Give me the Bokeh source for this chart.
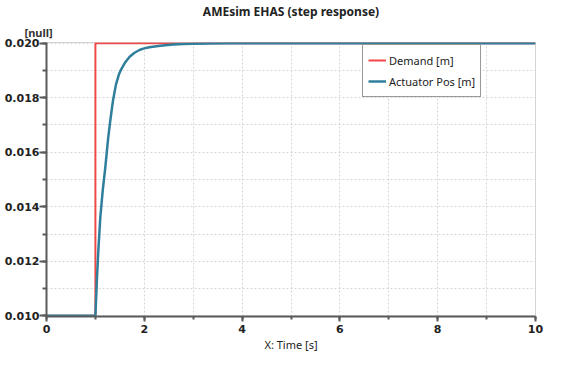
from bokeh.plotting import figure
from bokeh.models import (SingleIntervalTicker, NumeralTickFormatter, Legend, LegendItem,
                          Range1d, Title)
from bokeh.embed import file_html
from bokeh.resources import INLINE

# ---- data ----
demand_t = [0.0, 1.0, 1.0, 10.0]
demand_v = [0.010, 0.010, 0.020, 0.020]

act_t = [0.0, 1.0, 1.03, 1.06, 1.1, 1.15, 1.2, 1.26, 1.3, 1.36, 1.42, 1.48, 1.53,
         1.6, 1.7, 1.8, 1.9, 1.98, 2.1, 2.25, 2.42, 2.6, 2.8, 3.0, 3.3, 3.7, 4.2, 10.0]
act_v = [0.010, 0.010, 0.0113, 0.0124, 0.0136, 0.0146, 0.0154, 0.0165, 0.0171,
         0.0179, 0.01848, 0.01885, 0.01905, 0.01927, 0.01950, 0.01965, 0.01975,
         0.01980, 0.01985, 0.01989, 0.01992, 0.01995, 0.01997, 0.01998, 0.01999,
         0.019995, 0.0200, 0.0200]

title_text = "AMEsim EHAS (step response)"
y_unit = "[null]"
x_label = "X: Time [s]"
series_names = ["Demand [m]", "Actuator Pos [m]"]
series_colors = ["#f04848", "#2f7f9c"]

p = figure(width=555, height=354, output_backend="svg", toolbar_location=None,
           x_range=Range1d(0, 10), y_range=Range1d(0.009975, 0.020025),
           title=None, min_border_left=46, min_border_right=20,
           min_border_top=4, min_border_bottom=0)

p.background_fill_color = "white"
p.border_fill_color = "white"
p.outline_line_color = "#d4d4d4"
p.outline_line_width = 1

# titles (last added sits farthest from frame)
p.add_layout(Title(text=y_unit, align="left", offset=-22, text_font="Noto Sans",
                   text_font_size="11px", text_font_style="bold", text_color="#333333",
                   standoff=6), "above")
p.add_layout(Title(text=title_text, align="center", text_font="Noto Sans",
                   text_font_size="12px", text_font_style="bold", text_color="#222222",
                   standoff=0), "above")

# axes
p.xaxis.ticker = SingleIntervalTicker(interval=2, num_minor_ticks=2)
p.yaxis.ticker = SingleIntervalTicker(interval=0.002, num_minor_ticks=2)
p.yaxis.formatter = NumeralTickFormatter(format="0.000")
for ax in (p.xaxis[0], p.yaxis[0]):
    ax.axis_line_color = "#5a5a5a"
    ax.axis_line_width = 2
    ax.major_tick_line_color = "#5a5a5a"
    ax.minor_tick_line_color = "#5a5a5a"
    ax.major_tick_line_width = 2
    ax.minor_tick_line_width = 2
    ax.major_tick_in = 0
    ax.minor_tick_in = 0
    ax.major_label_text_font = "DejaVu Sans"
    ax.major_label_text_font_style = "bold"
    ax.major_label_text_font_size = "11px"
    ax.major_label_text_color = "#222222"
p.yaxis.major_tick_out = 7
p.yaxis.minor_tick_out = 4
p.yaxis.major_label_standoff = 0
p.xaxis.major_tick_out = 5
p.xaxis.minor_tick_out = 3
p.xaxis.major_label_standoff = 3
p.xaxis.axis_label = x_label
p.xaxis.axis_label_text_font = "Noto Sans"
p.xaxis.axis_label_text_font_style = "normal"
p.xaxis.axis_label_text_font_size = "11px"
p.xaxis.axis_label_text_color = "#222222"
p.xaxis.axis_label_standoff = 1

# grid
p.xgrid.ticker = SingleIntervalTicker(interval=1)
p.ygrid.ticker = SingleIntervalTicker(interval=0.001)
for g in (p.xgrid[0], p.ygrid[0]):
    g.grid_line_color = "#d6d6d6"
    g.grid_line_dash = "2 2"
    g.grid_line_width = 1

r_dem = p.line(demand_t, demand_v, line_color=series_colors[0], line_width=2)
r_act = p.line(act_t, act_v, line_color=series_colors[1], line_width=2.5)

leg = Legend(items=[LegendItem(label=series_names[0], renderers=[r_dem]),
                    LegendItem(label=series_names[1], renderers=[r_act])],
             location=(316, 219), border_line_color="#333333", border_line_width=1,
             background_fill_color="white", background_fill_alpha=1,
             label_text_font="Noto Sans", label_text_font_size="11px",
             label_text_color="#222222", glyph_width=18, glyph_height=20,
             label_height=20, label_standoff=3, padding=5, spacing=1, margin=0)
p.add_layout(leg, "center")

open("out.html", "w").write(file_html(p, INLINE))
